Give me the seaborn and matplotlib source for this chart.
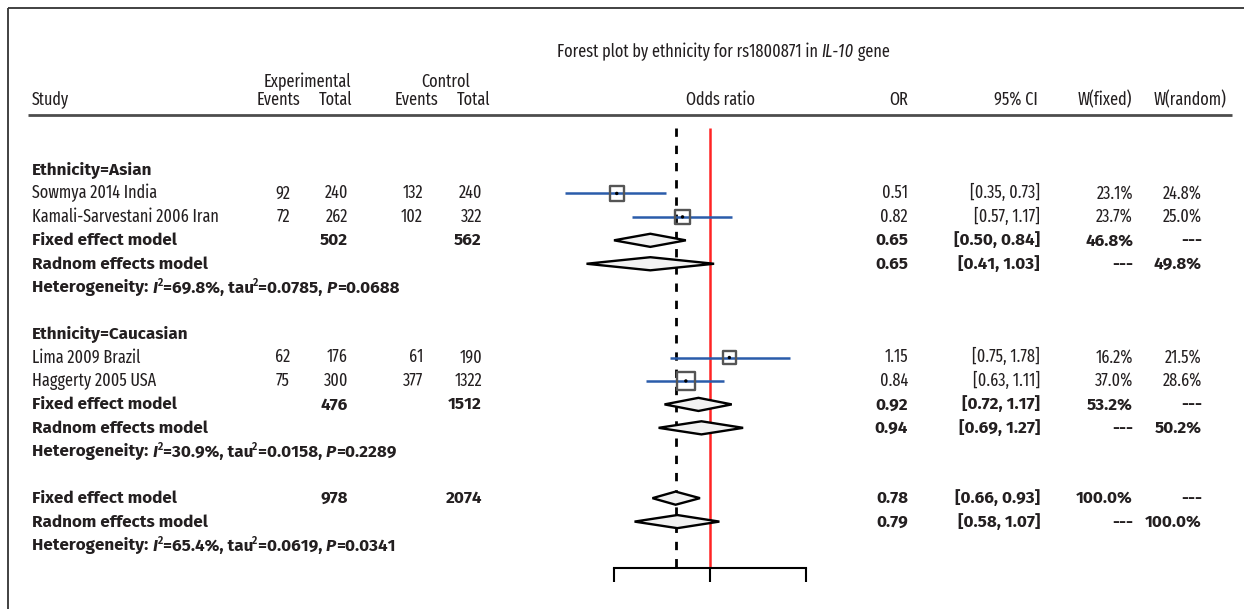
import numpy as np
import pandas as pd
import matplotlib
matplotlib.use("Agg")
import matplotlib.pyplot as plt
from matplotlib.ticker import NullLocator, NullFormatter, FixedLocator
import seaborn as sns

# ---------------- data ----------------
group_labels = ["Ethnicity=Asian", "Ethnicity=Caucasian"]
group_rows = [0, 7]

studies = ["Sowmya 2014 India", "Kamali-Sarvestani 2006 Iran", "Lima 2009 Brazil", "Haggerty 2005 USA"]
study_rows = [1, 2, 8, 9]
exp_events = [92, 72, 62, 75]
exp_total = [240, 262, 176, 300]
ctl_events = [132, 102, 61, 377]
ctl_total = [240, 322, 190, 1322]
or_vals = [0.51, 0.82, 1.15, 0.84]
ci_lo = [0.35, 0.57, 0.75, 0.63]
ci_hi = [0.73, 1.17, 1.78, 1.11]
w_fixed = [23.1, 23.7, 16.2, 37.0]
w_random = [24.8, 25.0, 21.5, 28.6]

summ_labels = ["Fixed effect model", "Radnom effects model"] * 3
summ_rows = [3, 4, 10, 11, 14, 15]
summ_exp_total = [502, None, 476, None, 978, None]
summ_ctl_total = [562, None, 1512, None, 2074, None]
summ_or = [0.65, 0.65, 0.92, 0.94, 0.78, 0.79]
summ_lo = [0.50, 0.41, 0.72, 0.69, 0.66, 0.58]
summ_hi = [0.84, 1.03, 1.17, 1.27, 0.93, 1.07]
summ_wf = ["46.8%", "---", "53.2%", "---", "100.0%", "---"]
summ_wr = ["---", "49.8%", "---", "50.2%", "---", "100.0%"]

het_rows = [5, 12, 16]
het_i2 = ["69.8%", "30.9%", "65.4%"]
het_tau2 = ["0.0785", "0.0158", "0.0619"]
het_p = ["0.0688", "0.2289", "0.0341"]

overall_fixed_or = 0.78
null_or = 1.0
axis_ticks = [0.5, 1, 2]

title_main = "Forest plot by ethnicity for rs1800871 in "
title_ital = "IL-10"
title_end = " gene"

# ---------------- style ----------------
sns.set_theme(style="white")
REG = ["Fira Sans Extra Condensed", "Fira Sans Condensed", "Roboto Condensed", "DejaVu Sans"]
BOLDF = ["Fira Sans", "Roboto", "DejaVu Sans"]
plt.rcParams["font.family"] = REG
TC = "#231f20"

W, H = 1244, 609
fig = plt.figure(figsize=(W / 100, H / 100), dpi=100)
Y0, DY = 170.0, 23.44
BASE_OFF = 0.21  # baseline sits a little below the row centre


def r(px):
    return (px - Y0) / DY


ylim = (r(H), r(0))
tab = fig.add_axes([0, 0, 1, 1])
tab.set_xlim(0, W)
tab.set_ylim(*ylim)
tab.axis("off")

fp = fig.add_axes([540 / W, 0, 340 / W, 1])
fp.patch.set_alpha(0)
fp.set_xscale("log", base=2)
fp.set_xlim(2 ** (-170 / 96), 2 ** (170 / 96))
fp.set_ylim(*ylim)

# ---- calibrate font sizes so text widths match the reference ----
renderer = fig.canvas.get_renderer()


def width_px(s, **fk):
    t = tab.text(0, 0, s, **fk)
    w = t.get_window_extent(renderer).width
    t.remove()
    return w


rw = sum(width_px(s, fontsize=11.3, family=REG)
         for s in ["Kamali-Sarvestani 2006 Iran", "[0.35, 0.73]"])
FS = 11.3 * (183 + 74) / rw
bw = sum(width_px(s, fontsize=11.3, family=BOLDF, fontweight="bold")
         for s in ["Fixed effect model", "Radnom effects model", "Ethnicity=Asian",
                   "Heterogeneity: I2=69.8%, tau2=0.0785, P=0.0688", "[0.50, 0.84]"])
FSB = 11.3 * (467 + 359 + 78) / bw

# ---------------- frame and header rule ----------------
tab.plot([8, W], [r(8), r(8)], color="#333333", lw=1.3, solid_capstyle="butt")
tab.plot([8, 8], [r(8), r(H)], color="#333333", lw=1.3, solid_capstyle="butt")
tab.plot([28, 1232], [r(115), r(115)], color="#4d4d4d", lw=2.0, solid_capstyle="butt")


def txt(x, y, s, ha="left", bold=False):
    if bold:
        return tab.text(x, y + BASE_OFF, s, ha=ha, va="baseline", fontsize=FSB, color=TC,
                        family=BOLDF, fontweight="bold")
    return tab.text(x, y + BASE_OFF, s, ha=ha, va="baseline", fontsize=FS, color=TC, family=REG)


def rich(x, y, parts):
    base = None
    last = None
    for s, st in parts:
        bold = st.get("bold", False)
        size = FSB if bold else FS
        fk = dict(color=TC, family=BOLDF if bold else REG,
                  fontweight="bold" if bold else "normal",
                  fontstyle="italic" if st.get("italic") else "normal")
        if base is None:
            base = tab.text(x, y + BASE_OFF, s, ha="left", va="baseline", fontsize=size, **fk)
            last = base
        elif st.get("sup"):
            last = tab.annotate(s, xy=(1, 0), xycoords=(last, base),
                                xytext=(st.get("dx", 0.0), size * 0.45), textcoords="offset points",
                                ha="left", va="bottom", fontsize=size * 0.6, **fk)
        else:
            last = tab.annotate(s, xy=(1, 0), xycoords=(last, base),
                                ha="left", va="bottom", fontsize=size, **fk)
    return base


# ---------------- header ----------------
rich(557, r(52), [(title_main, {}), (title_ital, {"italic": True}), (title_end, {})])
txt(307, r(82), "Experimental", ha="center")
txt(446, r(82), "Control", ha="center")
hr = r(100)
txt(32, hr, "Study")
txt(300, hr, "Events", ha="right")
txt(352, hr, "Total", ha="right")
txt(438, hr, "Events", ha="right")
txt(490, hr, "Total", ha="right")
txt(721, hr, "Odds ratio", ha="center")
txt(908, hr, "OR", ha="right")
txt(1038, hr, "95% CI", ha="right")
txt(1132, hr, "W(fixed)", ha="right")
txt(1226, hr, "W(random)", ha="right")

COL = dict(ee=290, et=348, ce=423, ct=482, orr=908, ci=1040, wf=1133, wr=1202)

for lab, row in zip(group_labels, group_rows):
    txt(32, row, lab, bold=True)

for i, row in enumerate(study_rows):
    txt(32, row, studies[i])
    txt(COL["ee"], row, str(exp_events[i]), ha="right")
    txt(COL["et"], row, str(exp_total[i]), ha="right")
    txt(COL["ce"], row, str(ctl_events[i]), ha="right")
    txt(COL["ct"], row, str(ctl_total[i]), ha="right")
    txt(COL["orr"], row, f"{or_vals[i]:.2f}", ha="right")
    txt(COL["ci"], row, f"[{ci_lo[i]:.2f}, {ci_hi[i]:.2f}]", ha="right")
    txt(COL["wf"], row, f"{w_fixed[i]:.1f}%", ha="right")
    txt(COL["wr"], row, f"{w_random[i]:.1f}%", ha="right")

for i, row in enumerate(summ_rows):
    txt(32, row, summ_labels[i], bold=True)
    if summ_exp_total[i] is not None:
        txt(COL["et"], row, str(summ_exp_total[i]), ha="right", bold=True)
        txt(COL["ct"], row, str(summ_ctl_total[i]), ha="right", bold=True)
    txt(COL["orr"], row, f"{summ_or[i]:.2f}", ha="right", bold=True)
    txt(COL["ci"], row, f"[{summ_lo[i]:.2f}, {summ_hi[i]:.2f}]", ha="right", bold=True)
    txt(COL["wf"], row, summ_wf[i], ha="right", bold=True)
    txt(COL["wr"], row, summ_wr[i], ha="right", bold=True)

for i, row in enumerate(het_rows):
    B = {"bold": True}
    BI = {"bold": True, "italic": True}
    rich(32, row, [("Heterogeneity: ", B), ("I", BI), ("2", {"bold": True, "sup": True, "dx": 0.2}),
                   ("=" + het_i2[i] + ", tau", B), ("2", {"bold": True, "sup": True, "dx": -0.6}),
                   ("=" + het_tau2[i] + ", ", B), ("P", BI), ("=" + het_p[i], B)])

# ---------------- forest panel ----------------
top_line, axis_row = r(128), 17
fp.vlines(null_or, top_line, axis_row, color="#ff2424", lw=1.8, zorder=2)
fp.vlines(overall_fixed_or, top_line, axis_row, color="black", lw=2.0,
          linestyles=(0, (3, 3.2)), zorder=2)

df = pd.DataFrame({"OR": or_vals, "lo": ci_lo, "hi": ci_hi, "row": study_rows, "wf": w_fixed})
fp.hlines(df["row"], df["lo"], df["hi"], color="#2a5caa", lw=1.8, zorder=3)
sq_lw = 1.7
side_pt = (2.57 * np.sqrt(df["wf"]) + 4.36 - sq_lw / 0.72) * 0.72
sns.scatterplot(data=df, x="OR", y="row", marker="s", s=side_pt ** 2,
                facecolors="none", edgecolor="#555555", linewidth=sq_lw,
                ax=fp, legend=False, zorder=4)
sns.scatterplot(data=df, x="OR", y="row", marker="o", s=6, color="black",
                edgecolor="none", ax=fp, legend=False, zorder=5)

hh = 0.28
for o, lo, hi, row in zip(summ_or, summ_lo, summ_hi, summ_rows):
    fp.fill([lo, o, hi, o], [row, row - hh, row, row + hh], facecolor="#f2f2f2",
            edgecolor="black", lw=1.7, zorder=5)

for s in ["top", "left", "right"]:
    fp.spines[s].set_visible(False)
fp.spines["bottom"].set_position(("data", axis_row))
fp.spines["bottom"].set_bounds(axis_ticks[0], axis_ticks[-1])
fp.spines["bottom"].set_color("black")
fp.spines["bottom"].set_linewidth(1.5)
fp.xaxis.set_major_locator(FixedLocator(axis_ticks))
fp.xaxis.set_minor_locator(NullLocator())
fp.xaxis.set_major_formatter(NullFormatter())
fp.tick_params(axis="x", which="major", bottom=True, direction="out", length=10,
               width=1.5, color="black", labelbottom=False)
fp.set_yticks([])
fp.set_xlabel("")
fp.set_ylabel("")

fig.savefig("out.png", dpi=100, facecolor="white")
